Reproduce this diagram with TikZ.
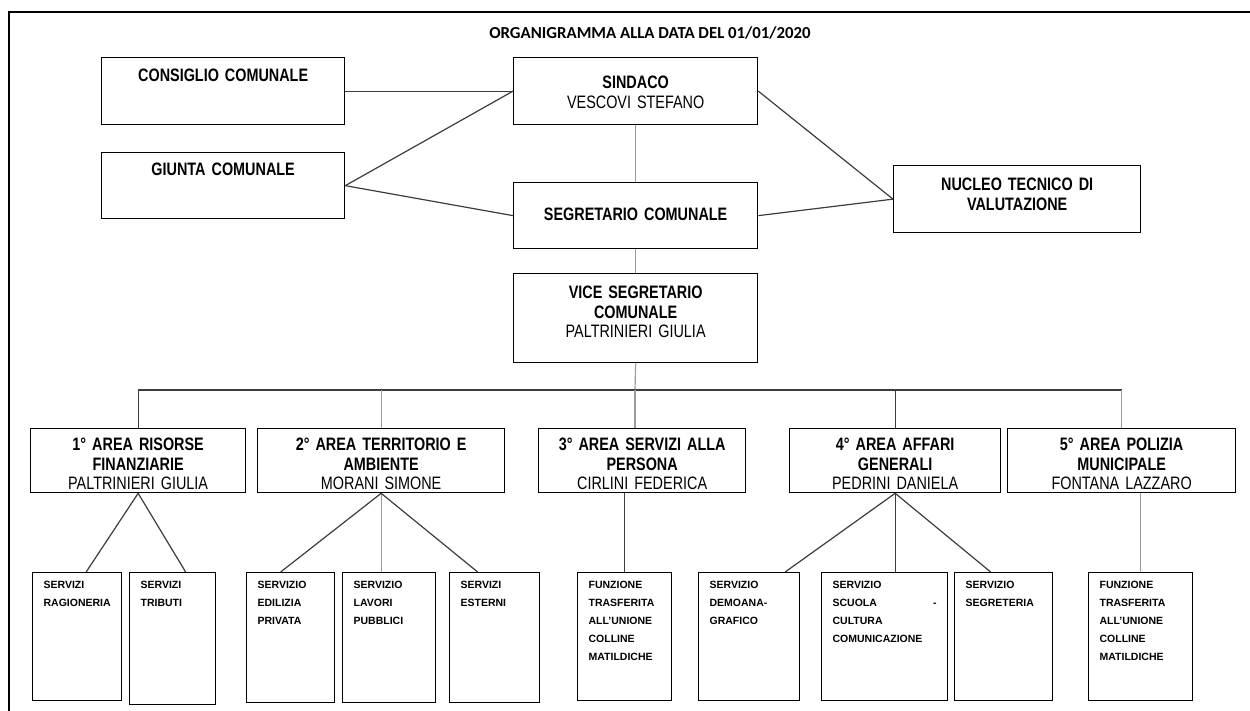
\documentclass[tikz,border=0pt]{standalone}
\usepackage{fontspec}
\setmainfont{Liberation Sans}
\newfontfamily\narrowfont{Liberation Sans}[FakeStretch=0.8]
\newfontfamily\titlefont{Carlito}
\usetikzlibrary{
    positioning,
    calc
}

\definecolor{linedark}{HTML}{3C3C3C}
\definecolor{linegrey}{HTML}{9C9C9C}

\tikzset{
  % upper boxes: width, height, first baseline
  headbox/.style n args={3}{
    draw,
    line width=1.3pt,
    anchor=north west,
    inner sep=0pt,
    align=center,
    text width=#1pt,
    text height=#3pt,
    text depth={#2pt-#3pt},
    font=\narrowfont\fontsize{18}{19.5}\selectfont\bfseries
  },
  % lower boxes: width, height
  servbox/.style n args={2}{
    draw,
    line width=1.3pt,
    anchor=north west,
    inner xsep=11pt,
    inner ysep=0pt,
    align=left,
    text width={#1pt-22pt},
    text height=16pt,
    text depth={#2pt-16pt},
    font=\fontsize{10.5}{18}\selectfont\bfseries
  },
  darkline/.style={draw=linedark, line width=1.2pt},
  greyline/.style={draw=linegrey, line width=1.2pt}
}

\begin{document}
\begin{tikzpicture}[x=1pt, y=-1pt]

  \useasboundingbox (0,0) rectangle (1250,711);
  \draw[line width=2.4pt] (9,711) -- (9,12) -- (1250,12);

  \node[font=\titlefont\fontsize{16.8}{18}\selectfont\bfseries] (titolo) at (650,33)
    {ORGANIGRAMMA ALLA DATA DEL 01/01/2020};

  % vertici {{{
  \node[headbox={243}{67}{24}] (consiglio) at (101,57)
    {CONSIGLIO COMUNALE};
  \node[headbox={244}{67}{31}] (sindaco) at (513,57)
    {SINDACO\\{\mdseries VESCOVI STEFANO}};
  \node[headbox={243}{66}{23}] (giunta) at (101,152)
    {GIUNTA COMUNALE};
  \node[headbox={244}{66}{38}] (segretario) at (513,182)
    {SEGRETARIO COMUNALE};
  \node[headbox={247}{67}{25}] (nucleo) at (893,165)
    {NUCLEO TECNICO DI\\VALUTAZIONE};
  \node[headbox={244}{89}{25}] (vice) at (513,273)
    {VICE SEGRETARIO\\COMUNALE\\{\mdseries PALTRINIERI GIULIA}};
  % }}}

  % aree {{{
  \node[headbox={215}{64}{22}] (area1) at (30,428)
    {1° AREA RISORSE\\FINANZIARIE\\{\mdseries PALTRINIERI GIULIA}};
  \node[headbox={247}{64}{22}] (area2) at (257,428)
    {2° AREA TERRITORIO E\\AMBIENTE\\{\mdseries MORANI SIMONE}};
  \node[headbox={207}{64}{22}] (area3) at (538,428)
    {3° AREA SERVIZI ALLA\\PERSONA\\{\mdseries CIRLINI FEDERICA}};
  \node[headbox={211}{64}{22}] (area4) at (789,428)
    {4° AREA AFFARI\\GENERALI\\{\mdseries PEDRINI DANIELA}};
  \node[headbox={228}{64}{22}] (area5) at (1007,428)
    {5° AREA POLIZIA\\MUNICIPALE\\{\mdseries FONTANA LAZZARO}};
  % }}}

  % servizi {{{
  \node[servbox={89}{128}] (ragioneria) at (32,572)
    {SERVIZI\\RAGIONERIA};
  \node[servbox={86}{132}] (tributi) at (129,572)
    {SERVIZI\\TRIBUTI};
  \node[servbox={88}{130}] (edilizia) at (246,572)
    {SERVIZIO\\EDILIZIA\\PRIVATA};
  \node[servbox={93}{130}] (lavori) at (342,572)
    {SERVIZIO\\LAVORI\\PUBBLICI};
  \node[servbox={90}{130}] (esterni) at (449,572)
    {SERVIZI\\ESTERNI};
  \node[servbox={94}{128}] (funzione1) at (577,572)
    {FUNZIONE\\TRASFERITA\\ALL'UNIONE\\COLLINE\\MATILDICHE};
  \node[servbox={101}{128}] (demografico) at (698,572)
    {SERVIZIO\\DEMOANA-\\GRAFICO};
  \node[servbox={126}{128}] (scuola) at (821,572)
    {SERVIZIO\\SCUOLA\hfill-\\CULTURA\\COMUNICAZIONE};
  \node[servbox={98}{128}] (segreteria) at (954,572)
    {SERVIZIO\\SEGRETERIA};
  \node[servbox={104}{128}] (funzione2) at (1088,572)
    {FUNZIONE\\TRASFERITA\\ALL'UNIONE\\COLLINE\\MATILDICHE};
  % }}}

  % collegamenti in alto {{{
  \draw[darkline] (consiglio.east) -- (sindaco.west);
  \draw[darkline] (giunta.east) -- (sindaco.west);
  \draw[darkline] (giunta.east) -- (segretario.west);
  \draw[darkline] (sindaco.east) -- (nucleo.west);
  \draw[darkline] (segretario.east) -- (nucleo.west);
  \draw[greyline] (sindaco.south) -- (segretario.north);
  \draw[greyline] (segretario.south) -- (vice.north);
  % }}}

  % collegamenti alle aree {{{
  \coordinate (bus) at (635,390);
  \draw[greyline] (vice.south) -- (bus);
  \draw[darkline] (area1.north |- bus) -- (area5.north |- bus);
  \draw[darkline] (area1.north |- bus) -- (area1.north);
  \draw[greyline] (area2.north |- bus) -- (area2.north);
  \draw[greyline] (bus) -- (bus |- area3.north);
  \draw[darkline] (area4.north |- bus) -- (area4.north);
  \draw[greyline] (area5.north |- bus) -- (area5.north);
  % }}}

  % collegamenti ai servizi {{{
  \draw[darkline] (area1.south) -- ([xshift=9pt]ragioneria.north);
  \draw[darkline] (area1.south) -- ([xshift=13pt]tributi.north);
  \draw[darkline] (area2.south) -- ([xshift=-10pt]edilizia.north);
  \draw[greyline] (area2.south) -- (area2.south |- lavori.north);
  \draw[darkline] (area2.south) -- ([xshift=-17pt]esterni.north);
  \draw[darkline] (funzione1.north |- area3.south) -- (funzione1.north);
  \draw[darkline] (area4.south) -- ([xshift=36pt]demografico.north);
  \draw[darkline] (area4.south) -- (area4.south |- scuola.north);
  \draw[darkline] (area4.south) -- ([xshift=-13pt]segreteria.north);
  \draw[greyline] (funzione2.north |- area5.south) -- (funzione2.north);
  % }}}

\end{tikzpicture}
\end{document}
